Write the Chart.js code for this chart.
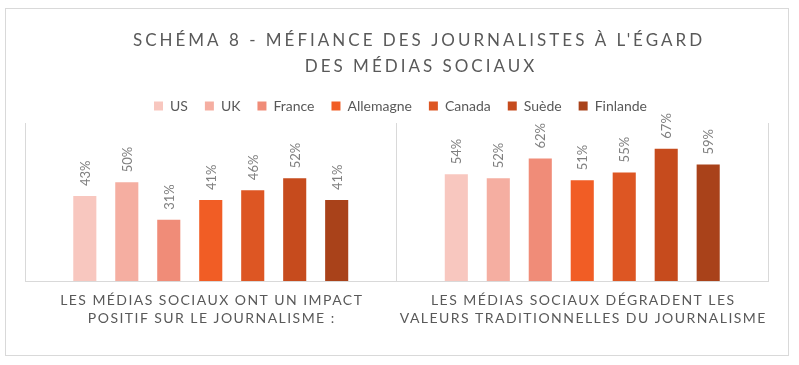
<!DOCTYPE html>
<html>
<head>
<meta charset="utf-8">
<script src="https://cdn.jsdelivr.net/npm/chart.js@4"></script>
<style>
  body { margin: 0; background: #fff; }
  #wrap { width: 799px; height: 365px; }
</style>
</head>
<body>
<div id="wrap"><canvas id="canvas" width="799" height="365"></canvas></div>
<script>
var titleLines = ["SCHÉMA 8 - MÉFIANCE DES JOURNALISTES À L'ÉGARD", "DES MÉDIAS SOCIAUX"];
var categories = [
    ["LES MÉDIAS SOCIAUX ONT UN IMPACT", "POSITIF SUR LE JOURNALISME :"],
    ["LES MÉDIAS SOCIAUX DÉGRADENT LES", "VALEURS TRADITIONNELLES DU JOURNALISME"]
];
var countries = ["US", "UK", "France", "Allemagne", "Canada", "Suède", "Finlande"];
// [impact positif, dégradent les valeurs]
var US = [43, 54];
var UK = [50, 52];
var France = [31, 62];
var Allemagne = [41, 51];
var Canada = [46, 55];
var Suede = [52, 67];
var Finlande = [41, 59];
var colors = ["#F8C7BF", "#F5AEA1", "#F08C78", "#F15D25", "#DD5623", "#C64B1D", "#A9421A"];

var series = [US, UK, France, Allemagne, Canada, Suede, Finlande];
var datasets = series.map(function(vals, i){
    return {
        label: countries[i],
        data: vals,
        backgroundColor: colors[i],
        categoryPercentage: 0.791,
        barPercentage: 0.55
    };
});

var extras = {
    id: 'extras',
    beforeDraw: function(chart){
        var ctx = chart.ctx;
        ctx.save();
        ctx.fillStyle = '#fff';
        ctx.fillRect(0, 0, chart.width, chart.height);
        ctx.strokeStyle = '#d9d9d9';
        ctx.lineWidth = 1;
        ctx.strokeRect(5.5, 8.5, 783, 347);
        ctx.restore();
    },
    afterUpdate: function(chart){
        chart.legend.left += 4;
        chart.legend.right += 4;
    },
    afterDatasetsDraw: function(chart){
        var ctx = chart.ctx;
        ctx.save();
        ctx.font = '13px Lato';
        ctx.fillStyle = '#7f7f7f';
        ctx.textAlign = 'left';
        ctx.textBaseline = 'middle';
        chart.data.datasets.forEach(function(ds, di){
            var meta = chart.getDatasetMeta(di);
            meta.data.forEach(function(bar, i){
                ctx.save();
                ctx.translate(bar.x + 1, bar.y - 10);
                ctx.rotate(-Math.PI / 2);
                ctx.fillText(ds.data[i] + '%', 0, 0);
                ctx.restore();
            });
        });
        ctx.restore();
    },
    afterDraw: function(chart){
        var ctx = chart.ctx;
        var x = chart.scales.x;
        ctx.save();
        ctx.fillStyle = '#595959';
        ctx.textAlign = 'center';
        ctx.textBaseline = 'alphabetic';
        ctx.font = '17px Lato';
        ctx.letterSpacing = '3px';
        ctx.fillText(titleLines[0], 419, 46);
        ctx.fillText(titleLines[1], 421, 72);
        ctx.font = '14px Lato';
        ctx.letterSpacing = '1.45px';
        categories.forEach(function(lines, i){
            var cx = x.getPixelForTick(i);
            ctx.fillText(lines[0], cx + 1, 305);
            ctx.fillText(lines[1], cx + 1, 323);
        });
        ctx.restore();
    }
};

const ctx = document.getElementById('canvas').getContext('2d');
const myChart = new Chart(ctx, {
    type: 'bar',
    data: {
        labels: categories,
        datasets: datasets
    },
    options: {
        responsive: false,
        animation: false,
        layout: {
            padding: { top: 82, left: 25, right: 31, bottom: 84 }
        },
        scales: {
            x: {
                grid: { display: true, offset: true, color: '#d9d9d9', drawTicks: false },
                border: { display: true, color: '#d9d9d9' },
                ticks: { display: false }
            },
            y: {
                display: false,
                min: 0,
                max: 80
            }
        },
        plugins: {
            title: { display: false },
            tooltip: { enabled: false },
            legend: {
                display: true,
                position: 'top',
                maxHeight: 43,
                labels: {
                    boxWidth: 9,
                    boxHeight: 9,
                    padding: 17,
                    color: '#595959',
                    font: { family: 'Lato', size: 14 }
                }
            }
        }
    },
    plugins: [extras]
});
</script>
</body>
</html>
